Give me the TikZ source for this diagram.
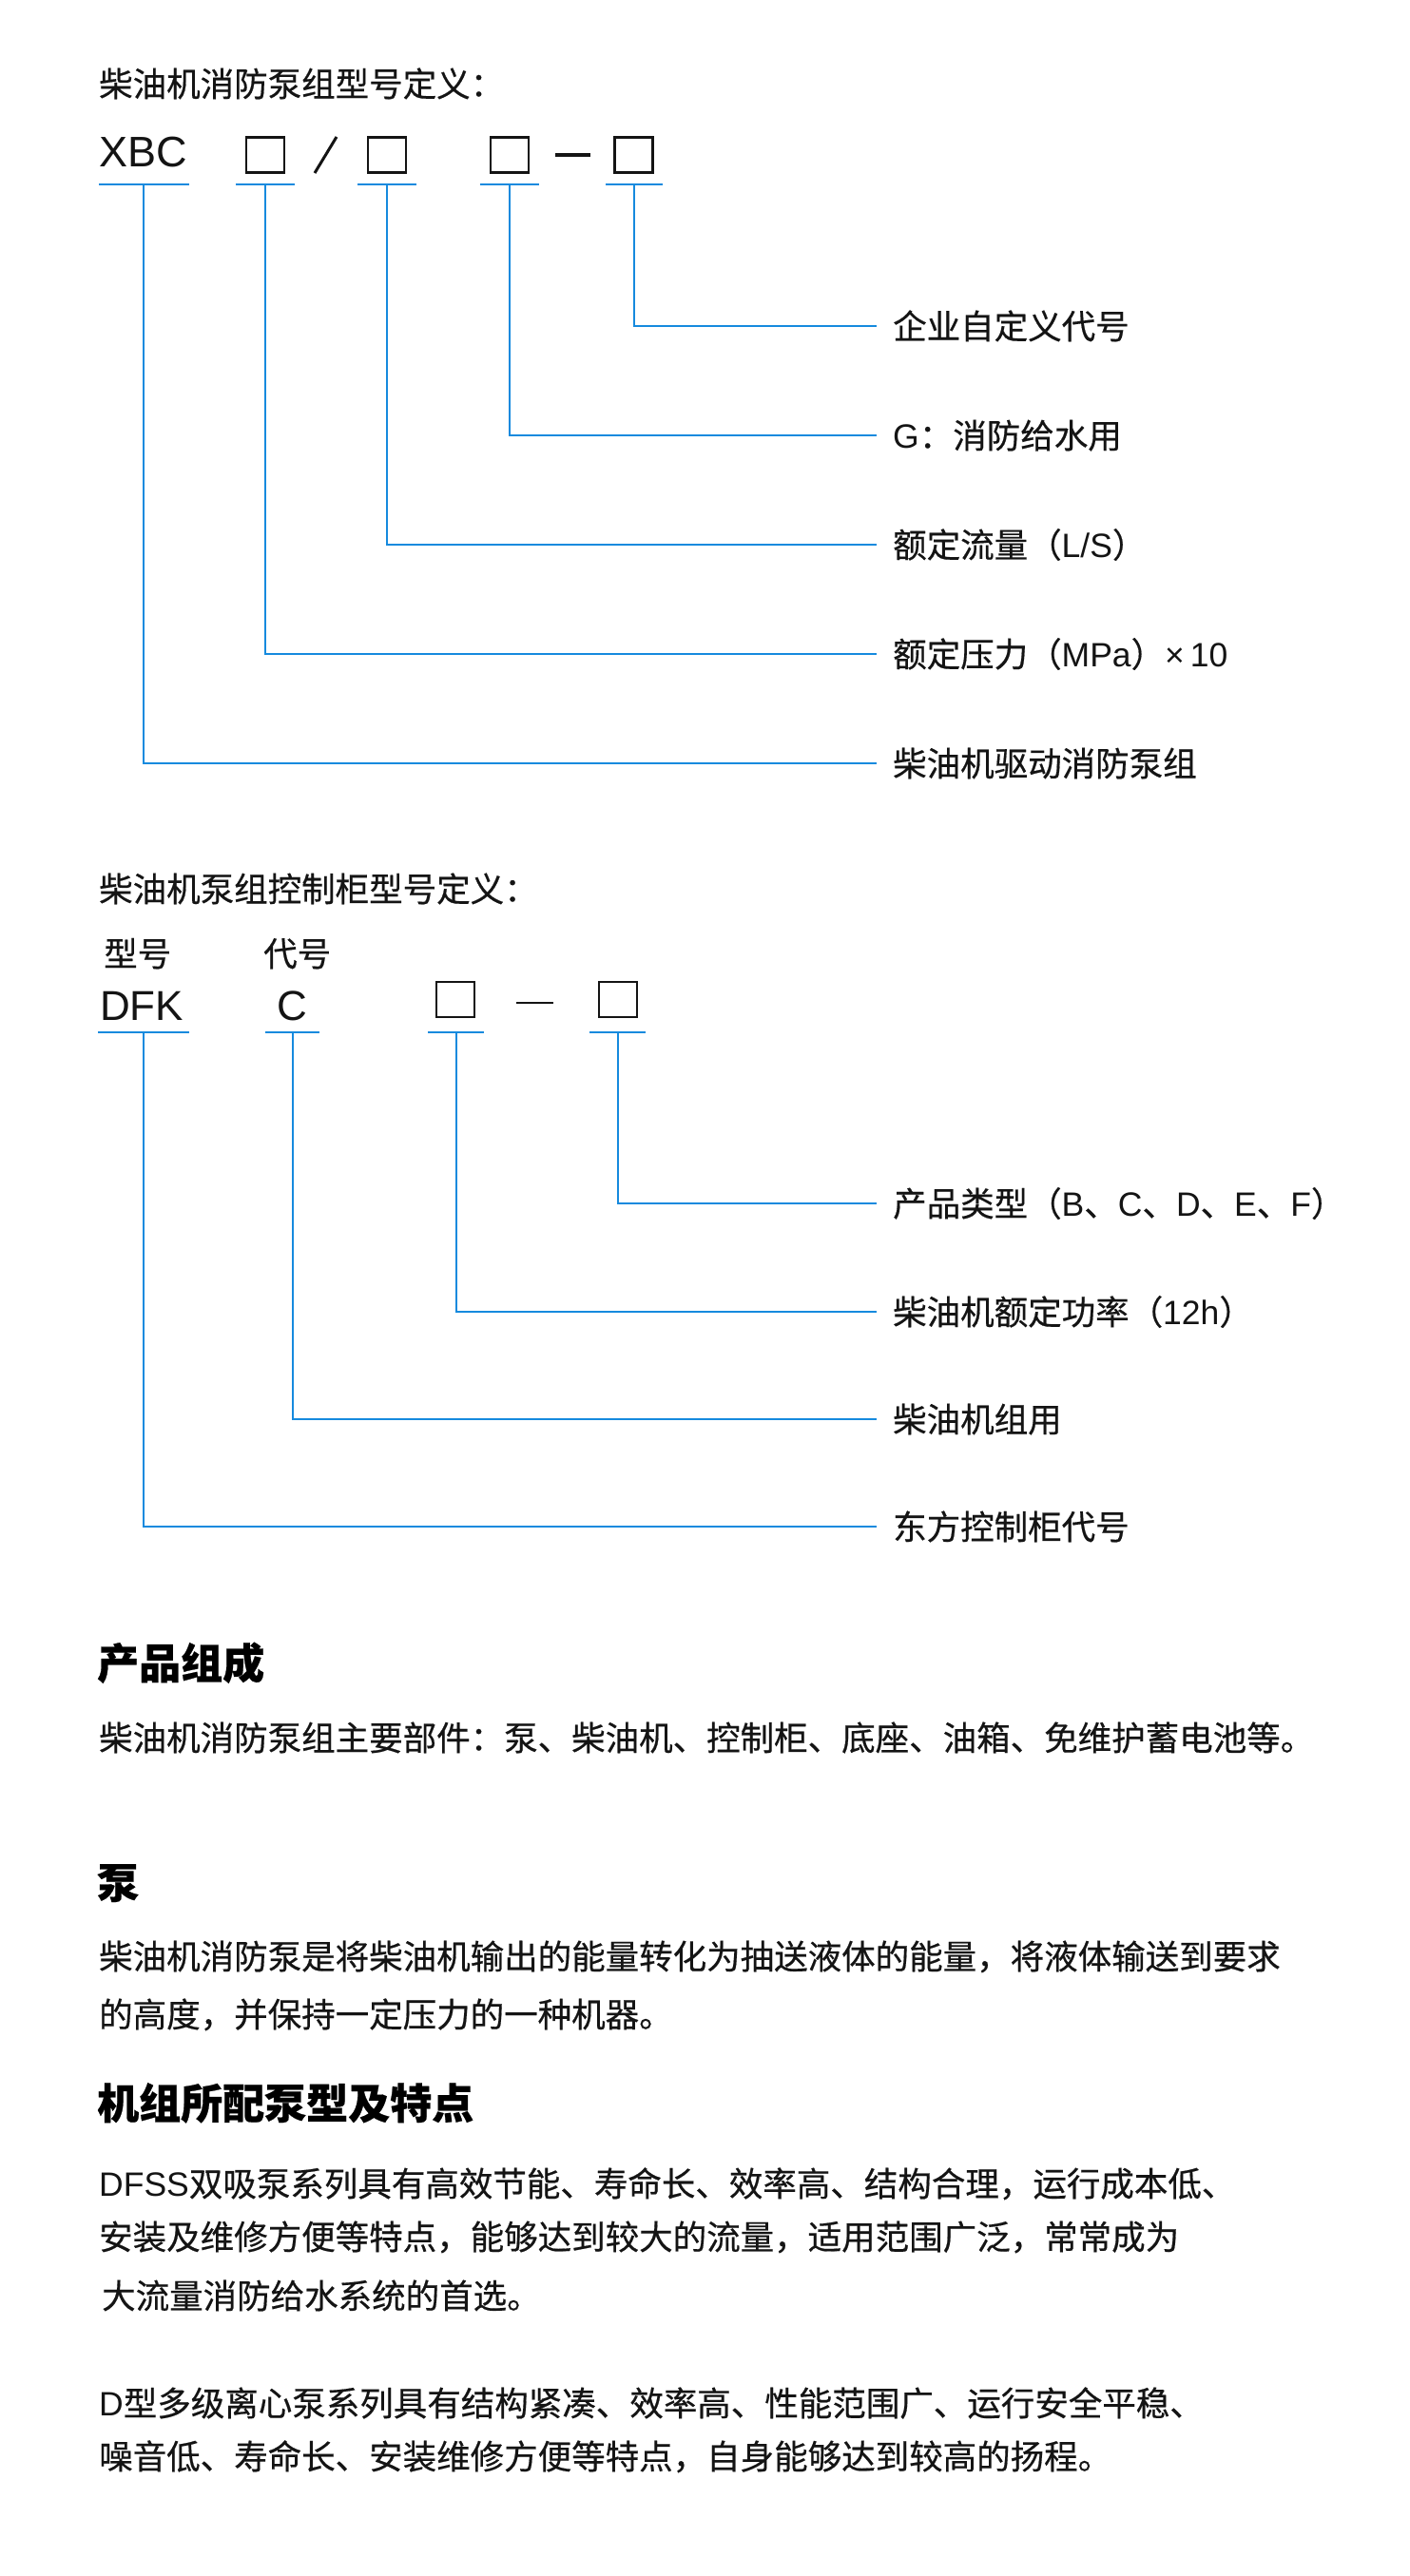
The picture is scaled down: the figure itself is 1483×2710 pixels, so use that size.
\documentclass[tikz,border=0pt]{standalone}
\usepackage{fontspec}
\setmainfont{Liberation Sans}
\newfontfamily\cjk{Noto Sans CJK SC}[FakeBold=0.5]
\newcommand\zh[1]{{\cjk #1}}
\definecolor{lineblue}{RGB}{22,138,222}
\definecolor{ink}{RGB}{20,20,20}
\tikzset{
  txt/.style={anchor=west, inner sep=0pt, text height=31pt, text depth=4pt, text=ink,
              font=\fontsize{35.5}{35.5}\selectfont},
  head/.style={anchor=west, inner sep=0pt, text height=39pt, text depth=5pt, text=black,
               font=\fontsize{44}{44}\selectfont\cjk\bfseries},
  code/.style={anchor=base west, inner sep=0pt, text=ink, font=\fontsize{45}{45}\selectfont},
  cbox/.style={draw=ink, line width=2.7pt, minimum width=40pt, minimum height=37pt, inner sep=0pt},
  ubar/.style={fill=lineblue, minimum height=2.6pt, inner sep=0pt},
  conn/.style={draw=lineblue, line width=2pt, shorten >=17pt},
  glyphline/.style={draw=ink, line width=3pt},
}
\begin{document}
\begin{tikzpicture}[x=1pt,y=-1pt]
\fill[white] (0,0) rectangle (1483,2710);
\useasboundingbox (0,0) rectangle (1483,2710);

% ---------- Section 1 ----------
\node[txt] (h1) at (104,88) {\zh{柴油机消防泵组型号定义：}};
\node[code] (xbc) at (104,175.5) {XBC};
\node[cbox] (b1) at (279,163) {};
\node[cbox] (b2) at (407,163) {};
\node[cbox] (b3) at (536,163) {};
\node[cbox] (b4) at (666.5,163) {};
\draw[glyphline] (354,144) -- (331,182);
\draw[draw=ink, line width=3.6pt] (584,163) -- (621,163);

\node[ubar, minimum width=95pt] (u1) at (151,194) {};
\node[ubar, minimum width=62pt] (u2) at (279,194) {};
\node[ubar, minimum width=62pt] (u3) at (407,194) {};
\node[ubar, minimum width=62pt] (u4) at (536,194) {};
\node[ubar, minimum width=60pt] (u5) at (666.5,194) {};

\node[txt] (l1) at (939,343) {\zh{企业自定义代号}};
\node[txt] (l2) at (939,458) {G\zh{：消防给水用}};
\node[txt] (l3) at (939,573) {\zh{额定流量（}L/S\zh{）}};
\node[txt] (l4) at (939,688) {\zh{额定压力（}MPa\zh{）}×\,10};
\node[txt] (l5) at (939,803) {\zh{柴油机驱动消防泵组}};

\draw[conn] (u5.center) |- (l1.west);
\draw[conn] (u4.center) |- (l2.west);
\draw[conn] (u3.center) |- (l3.west);
\draw[conn] (u2.center) |- (l4.west);
\draw[conn] (u1.center) |- (l5.west);

% ---------- Section 2 ----------
\node[txt] (h2) at (104,935) {\zh{柴油机泵组控制柜型号定义：}};
\node[txt] (t1) at (109,1003) {\zh{型号}};
\node[txt] (t2) at (277,1003) {\zh{代号}};
\node[code, font=\fontsize{44}{44}\selectfont] (dfk) at (105,1073) {DFK};
\node[code, font=\fontsize{44}{44}\selectfont] (cc) at (291,1073) {C};
\node[cbox] (ba) at (479,1051.5) {};
\node[cbox] (bb) at (650,1051.5) {};
\draw[draw=ink, line width=2.6pt] (543,1055) -- (582,1055);

\node[ubar, minimum width=96pt] (v1) at (151,1086) {};
\node[ubar, minimum width=57pt] (v2) at (307.5,1086) {};
\node[ubar, minimum width=59pt] (v3) at (479.5,1086) {};
\node[ubar, minimum width=59pt] (v4) at (649.5,1086) {};

\node[txt] (m1) at (939,1266) {\zh{产品类型（}B\zh{、}C\zh{、}D\zh{、}E\zh{、}F\zh{）}};
\node[txt] (m2) at (939,1380) {\zh{柴油机额定功率（}12h\zh{）}};
\node[txt] (m3) at (939,1493) {\zh{柴油机组用}};
\node[txt] (m4) at (939,1606) {\zh{东方控制柜代号}};

\draw[conn] (v4.center) |- (m1.west);
\draw[conn] (v3.center) |- (m2.west);
\draw[conn] (v2.center) |- (m3.west);
\draw[conn] (v1.center) |- (m4.west);

% ---------- Section 3 ----------
\node[head] (s1) at (102,1749) {产品组成};
\node[txt] (p1) at (104,1828) {\zh{柴油机消防泵组主要部件：泵、柴油机、控制柜、底座、油箱、免维护蓄电池等。}};
\node[head] (s2) at (102,1980) {泵};
\node[txt] (p2) at (104,2058) {\zh{柴油机消防泵是将柴油机输出的能量转化为抽送液体的能量，将液体输送到要求}};
\node[txt] (p3) at (104,2119) {\zh{的高度，并保持一定压力的一种机器。}};
\node[head] (s3) at (102,2212) {机组所配泵型及特点};
\node[txt] (p4) at (104,2297) {DFSS\zh{双吸泵系列具有高效节能、寿命长、效率高、结构合理，运行成本低、}};
\node[txt] (p5) at (104,2353) {\zh{安装及维修方便等特点，能够达到较大的流量，适用范围广泛，常常成为}};
\node[txt] (p6) at (107,2415) {\zh{大流量消防给水系统的首选。}};
\node[txt] (p7) at (104,2528) {D\zh{型多级离心泵系列具有结构紧凑、效率高、性能范围广、运行安全平稳、}};
\node[txt] (p8) at (104,2584) {\zh{噪音低、寿命长、安装维修方便等特点，自身能够达到较高的扬程。}};
\end{tikzpicture}
\end{document}
